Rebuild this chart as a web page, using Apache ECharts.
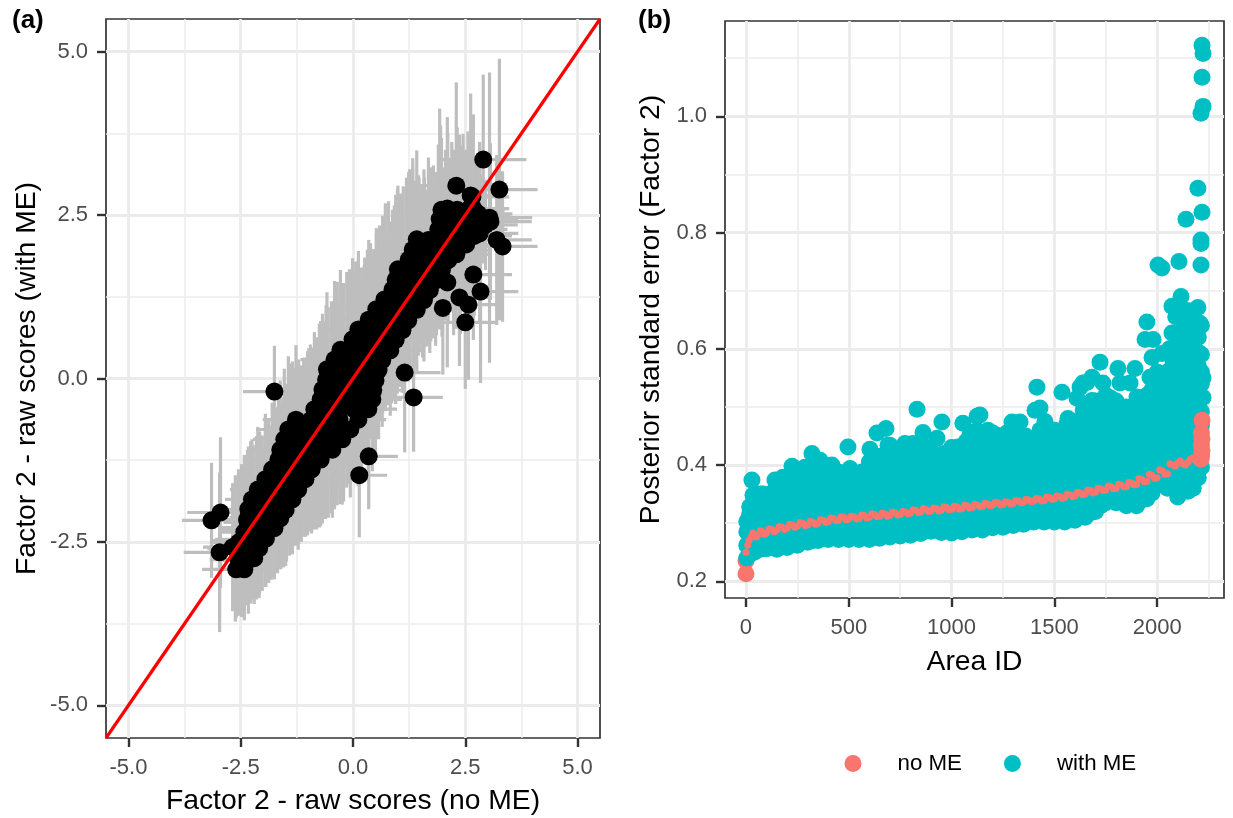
<!DOCTYPE html>
<html><head><meta charset="utf-8">
<style>html,body{margin:0;padding:0;background:#fff}#c{width:1233px;height:818px}</style>
<script src="https://cdn.jsdelivr.net/npm/echarts@6/dist/echarts.min.js"></script>
</head><body><div id="c"></div>
<script>
// Panel (a): [score no ME, score with ME, half-length of horizontal bar, half-length of vertical bar]
const bandLow = [
[-2.60,-2.92,.76,.74],[-2.42,-2.92,.62,.78],
[-2.55,-2.77,.64,.80],[-2.33,-2.78,.58,.82],[-2.20,-2.75,.52,.70],
[-2.50,-2.61,.70,.86],[-2.28,-2.62,.58,.82],[-2.09,-2.60,.50,.76],
[-2.41,-2.46,.66,.90],[-2.17,-2.47,.56,.78],[-1.94,-2.45,.52,.74],
[-2.35,-2.31,.60,.94],[-2.11,-2.33,.55,.84],[-1.88,-2.30,.50,.80],[-1.75,-2.29,.48,.72],
[-2.36,-2.16,.58,.98],[-2.05,-2.17,.54,.86],[-1.82,-2.15,.50,.88],[-1.62,-2.14,.52,.76],
[-2.33,-2.00,.62,.96],[-2.02,-2.02,.54,.92],[-1.75,-1.99,.50,.84],[-1.50,-2.01,.52,.86],
[-2.25,-1.85,.60,.92],[-1.95,-1.86,.56,.88],[-1.68,-1.84,.50,.94],[-1.35,-1.85,.54,.84],
[-2.12,-1.70,.62,.96],[-1.85,-1.71,.55,.92],[-1.58,-1.69,.52,.90],[-1.22,-1.70,.56,.92],
[-1.95,-1.54,.64,1.00],[-1.70,-1.55,.58,.94],[-1.42,-1.53,.52,.96],[-1.06,-1.54,.58,.88],
[-1.80,-1.39,.62,1.02],[-1.55,-1.40,.58,.96],[-1.30,-1.38,.54,.92],[-0.92,-1.39,.60,.98],
[-1.66,-1.24,.66,1.04],[-1.38,-1.25,.60,1.00],[-1.10,-1.23,.56,.98],[-0.72,-1.24,.62,1.02],
[-1.62,-1.09,.70,1.06],[-1.30,-1.10,.62,1.00],[-1.00,-1.08,.56,1.02],[-0.68,-1.09,.60,.96],[-0.46,-1.09,.58,1.04]
];
const bandMid = [
[-1.53,-0.93,.70,1.08],[-1.22,-0.94,.62,1.04],[-0.90,-0.92,.58,1.00],[-0.58,-0.93,.56,1.06],[-0.24,-0.93,.60,1.00],
[-1.44,-0.78,.72,1.12],[-1.10,-0.79,.64,1.06],[-0.78,-0.77,.58,1.02],[-0.42,-0.78,.58,1.08],[-0.06,-0.78,.62,1.04],
[-1.27,-0.63,.74,1.14],[-0.95,-0.64,.66,1.10],[-0.62,-0.62,.60,1.04],[-0.30,-0.63,.58,1.06],[0.12,-0.63,.62,1.02],
[-0.86,-0.47,.78,1.18],[-0.58,-0.48,.66,1.12],[-0.28,-0.46,.60,1.04],[0.02,-0.47,.58,1.08],[0.34,-0.47,.64,1.06],
[-0.72,-0.32,.76,1.20],[-0.45,-0.33,.68,1.10],[-0.15,-0.31,.60,1.08],[0.15,-0.32,.60,1.02],[0.43,-0.32,.66,1.10],
[-0.68,-0.17,.74,1.16],[-0.38,-0.18,.66,1.12],[-0.08,-0.16,.62,1.06],[0.22,-0.17,.60,1.04],[0.45,-0.18,.68,1.06],
[-0.60,-0.02,.72,1.14],[-0.30,-0.03,.66,1.16],[0.00,-0.01,.62,1.08],[0.28,-0.02,.62,1.06],[0.50,-0.03,.70,1.12],
[-0.58,0.14,.74,1.18],[-0.28,0.13,.68,1.12],[0.03,0.15,.62,1.10],[0.32,0.14,.60,1.04],[0.57,0.13,.72,1.06],
[-0.41,0.29,.76,1.20],[-0.12,0.28,.68,1.14],[0.18,0.30,.64,1.08],[0.42,0.29,.62,1.10],[0.65,0.28,.70,1.02],
[-0.28,0.44,.74,1.22],[0.02,0.43,.68,1.16],[0.30,0.45,.64,1.08],[0.58,0.44,.62,1.06],[0.83,0.43,.72,1.00],
[-0.01,0.60,.76,1.24],[0.25,0.59,.70,1.14],[0.50,0.61,.64,1.10],[0.72,0.60,.62,1.04],[0.95,0.59,.72,.98],
[0.12,0.75,.74,1.20],[0.40,0.74,.70,1.16],[0.65,0.76,.64,1.06],[0.90,0.75,.64,1.04],[1.10,0.74,.74,.96],
[0.35,0.90,.76,1.22],[0.60,0.89,.70,1.12],[0.85,0.91,.66,1.08],[1.08,0.90,.66,1.02],[1.23,0.89,.76,.94]
];
const bandHigh = [
[0.52,1.06,.76,1.24],[0.78,1.05,.72,1.14],[1.02,1.07,.66,1.08],[1.25,1.06,.66,1.00],[1.42,1.05,.78,.96],
[0.70,1.21,.78,1.26],[0.95,1.20,.72,1.18],[1.20,1.22,.68,1.10],[1.40,1.21,.66,1.02],[1.58,1.20,.76,.94],
[0.88,1.36,.76,1.22],[1.10,1.35,.72,1.16],[1.35,1.37,.68,1.08],[1.55,1.36,.68,1.04],[1.71,1.35,.80,.96],
[0.95,1.51,.78,1.30],[1.20,1.50,.74,1.22],[1.45,1.52,.70,1.10],[1.65,1.51,.70,1.02],[1.84,1.50,.82,1.00],
[1.00,1.67,.78,1.28],[1.25,1.66,.74,1.24],[1.50,1.68,.70,1.14],[1.75,1.67,.72,1.06],[1.98,1.66,.84,1.02],
[1.24,1.82,.78,1.34],[1.47,1.81,.74,1.26],[1.70,1.83,.72,1.12],[1.90,1.82,.72,1.04],[2.12,1.81,.86,.98],[2.30,1.90,.78,1.14],
[1.33,1.97,.80,1.40],[1.58,1.96,.76,1.24],[1.82,1.98,.74,1.18],[2.05,1.97,.74,1.08],[2.24,1.96,.84,1.30],[2.52,2.05,.80,1.16],
[1.42,2.13,.76,1.36],[1.68,2.12,.76,1.26],[1.95,2.14,.74,1.16],[2.20,2.13,.78,1.10],[2.39,2.12,.82,1.44],[2.70,2.18,.84,1.22],
[1.90,2.28,.78,1.30],[2.10,2.27,.76,1.22],[2.32,2.29,.80,1.18],[2.62,2.28,.82,1.34],[2.82,2.22,.86,1.36],
[1.95,2.43,.80,1.44],[2.20,2.42,.78,1.20],[2.45,2.44,.80,1.30],[2.82,2.42,.86,1.20],
[1.97,2.58,.80,1.10],[2.10,2.60,.76,1.40],[2.32,2.58,.82,1.26],[2.56,2.58,.82,1.20],[2.68,2.60,.80,1.44]
];
const bandCore = [
[-2.68,-2.58,.66,.98],[-2.62,-2.60,.62,1.12],[-2.55,-2.51,.60,1.12],[-2.48,-2.48,.64,1.17],[-2.42,-2.35,.58,1.18],[-2.35,-2.28,.62,1.19],
[-2.28,-2.20,.60,1.24],[-2.22,-2.20,.66,1.18],[-2.15,-2.13,.60,1.25],[-2.08,-2.05,.62,1.24],[-2.02,-2.06,.58,1.19],[-1.95,-1.94,.64,1.25],
[-1.88,-1.88,.62,1.25],[-1.82,-1.90,.60,1.18],[-1.75,-1.79,.66,1.28],[-1.68,-1.71,.62,1.27],[-1.61,-1.65,.64,1.27],[-1.55,-1.59,.60,1.30],
[-1.48,-1.44,.68,1.36],[-1.41,-1.24,.70,1.47],[-1.35,-1.19,.66,1.45],[-1.28,-1.21,.62,1.35],[-1.21,-1.12,.64,1.41],[-1.15,-1.15,.60,1.35],
[-1.08,-1.05,.66,1.37],[-1.01,-0.99,.68,1.41],[-0.95,-0.91,.64,1.43],[-0.88,-0.92,.62,1.39],[-0.81,-0.84,.66,1.47],[-0.75,-0.72,.70,1.56],
[-0.68,-0.72,.66,1.50],[-0.61,-0.64,.64,1.51],[-0.55,-0.52,.68,1.61],[-0.48,-0.44,.70,1.62],[-0.41,-0.37,.66,1.63],[-0.35,-0.23,.72,1.71],
[-0.28,-0.28,.68,1.64],[-0.21,-0.21,.66,1.67],[-0.14,-0.02,.70,1.65],[-0.08,0.03,.72,1.64],[-0.01,0.02,.66,1.56],[0.06,0.15,.70,1.64],
[0.12,0.20,.68,1.62],[0.19,0.17,.66,1.53],[0.26,0.28,.70,1.57],[0.32,0.44,.72,1.53],[0.39,0.57,.70,1.50],[0.46,0.60,.66,1.38],
[0.52,0.75,.72,1.47],[0.59,0.86,.74,1.48],[0.66,0.98,.70,1.51],[0.72,1.09,.72,1.59],[0.79,1.15,.74,1.56],[0.86,1.01,.68,1.39],
[0.92,1.18,.70,1.47],[0.99,1.33,.76,1.56],[1.06,1.35,.72,1.48],[1.12,1.43,.74,1.51],[1.19,1.53,.76,1.54],[1.26,1.64,.78,1.56],
[1.33,1.70,.76,1.53],[1.39,1.64,.72,1.38],[1.46,1.73,.74,1.38],[1.53,1.70,.70,1.26],[1.59,1.77,.74,1.30],[1.66,1.70,.70,1.19],
[1.73,1.90,.76,1.33],[1.79,1.94,.78,1.32],[1.86,1.91,.74,1.25],[1.93,2.44,.80,1.69],[1.99,2.02,.74,1.21],[2.06,2.20,.78,1.30],
[2.11,2.36,.80,1.40],[2.17,2.19,.76,1.16],[2.24,2.32,.78,1.18],[2.37,2.50,.82,1.23],[2.44,2.46,.80,1.10],[2.51,2.48,.78,1.02],
[2.57,2.45,.76,.96],[2.66,2.78,.82,1.21],[2.73,2.49,.78,.86],[2.79,2.52,.76,.82],[2.88,2.44,.74,.68],[2.95,2.35,.72,.69]
];
const outliers = [
[-3.15,-2.17,.66,.88],[-2.95,-2.05,.74,1.15],[-2.97,-2.66,.80,1.22],
[-1.75,-0.20,.70,.70],[0.14,-1.48,.62,.95],[0.35,-1.19,.65,.81],
[1.15,0.09,.80,1.22],[1.35,-0.29,.65,.83],[2.00,1.08,.76,1.02],
[2.50,0.86,.70,1.02],[2.57,1.13,.62,1.15],[2.84,1.33,.84,1.40],[2.68,1.59,.86,1.00],
[2.37,1.24,.70,1.05],[2.10,1.47,.72,1.30],[3.06,2.40,.92,1.20],
[2.90,3.35,.96,1.30],[3.26,2.89,.85,2.00],[3.20,2.12,.78,1.30],[3.33,2.02,.78,1.15],
[3.04,2.46,.95,2.22],[2.30,2.95,.85,1.58],[2.62,2.80,.80,1.56]
];
const identityLine = [[-5.5,-5.5],[5.5,5.5]];
const ticksA = [-5,-2.5,0,2.5,5];
const minorA = [-3.75,-1.25,1.25,3.75];
const labelsA = {'-5':'-5.0','-2.5':'-2.5','0':'0.0','2.5':'2.5','5':'5.0'};

// Panel (b): with-ME standard errors as [area id, [values at this id]]
const withMEColumns = [
[4,[.240,.262,.285,.303]],[18,[.246,.270,.292,.316,.328]],[40,[.250,.281,.303,.327,.345]],
[70,[.255,.276,.298,.320,.343,.350]],[100,[.256,.279,.302,.325,.347]],[125,[.262,.291,.314,.337,.352]],
[150,[.255,.278,.302,.325,.348,.358]],[175,[.262,.287,.310,.333,.356,.368]],[200,[.258,.281,.304,.329,.352,.376]],
[225,[.265,.288,.312,.335,.358,.382]],[250,[.262,.285,.310,.333,.356,.380,.386]],[275,[.268,.292,.316,.339,.362,.388]],
[300,[.267,.290,.313,.337,.360,.384,.393]],[325,[.270,.294,.318,.341,.365,.389]],[350,[.270,.293,.316,.340,.364,.394]],
[375,[.274,.298,.322,.345,.369,.390]],[400,[.272,.295,.318,.343,.366,.392]],[425,[.276,.300,.323,.347,.371,.388]],
[450,[.272,.296,.320,.344,.367,.388]],[475,[.278,.302,.326,.350,.374,.382]],[500,[.272,.296,.319,.343,.366,.385]],
[525,[.277,.301,.325,.349,.372]],[550,[.272,.296,.320,.344,.368,.382]],[575,[.279,.303,.327,.351,.375]],
[600,[.272,.296,.319,.344,.367,.385]],[625,[.279,.303,.328,.352,.376,.392]],[650,[.274,.298,.321,.345,.369,.391]],
[675,[.281,.305,.329,.353,.377,.400]],[700,[.276,.299,.323,.347,.371,.396]],[725,[.283,.307,.331,.355,.379,.402]],
[750,[.278,.301,.326,.350,.373,.400]],[775,[.284,.308,.332,.356,.380,.405]],[800,[.279,.303,.327,.351,.375,.399,.408]],
[825,[.285,.309,.333,.358,.382,.406]],[850,[.282,.306,.330,.354,.378,.402,.410]],[875,[.289,.313,.337,.361,.385,.408]],
[900,[.286,.310,.334,.358,.382,.406]],[925,[.291,.315,.339,.363,.387,.405]],[950,[.284,.308,.332,.356,.380,.402]],
[975,[.290,.314,.338,.362,.386,.406]],[1000,[.283,.307,.332,.356,.380,.405]],[1025,[.292,.316,.340,.364,.388,.412]],
[1050,[.285,.309,.333,.357,.381,.405,.421]],[1075,[.294,.318,.342,.366,.390,.414]],[1100,[.288,.312,.336,.360,.384,.408,.431]],
[1125,[.295,.319,.343,.367,.391,.415,.437]],[1150,[.288,.313,.337,.361,.385,.409,.433,.442]],[1175,[.297,.321,.345,.369,.393,.417]],
[1200,[.292,.316,.340,.364,.388,.412,.438]],[1225,[.299,.323,.347,.371,.395,.419]],[1250,[.293,.317,.341,.365,.389,.413,.431]],
[1275,[.301,.325,.349,.373,.397,.421]],[1300,[.296,.320,.344,.368,.392,.416,.430]],[1325,[.303,.327,.351,.375,.399,.423]],
[1350,[.298,.322,.346,.370,.394,.418,.437]],[1375,[.306,.330,.354,.378,.402,.426]],[1400,[.302,.326,.350,.374,.398,.422,.441]],
[1425,[.308,.332,.356,.380,.404,.428]],[1450,[.302,.326,.350,.374,.398,.422,.441]],[1475,[.309,.333,.357,.381,.405,.429]],
[1500,[.302,.326,.350,.374,.398,.422,.446]],[1525,[.310,.334,.358,.382,.406,.430]],[1550,[.302,.326,.350,.374,.398,.422,.450]],
[1575,[.311,.335,.359,.383,.407,.431]],[1600,[.305,.329,.353,.377,.401,.425,.450]],[1625,[.314,.338,.362,.386,.410,.434,.458]],
[1650,[.310,.334,.358,.382,.406,.430,.454,.470]],[1675,[.318,.342,.366,.390,.414,.438,.462,.482]],[1700,[.320,.344,.368,.392,.416,.440,.464,.490]],
[1725,[.330,.354,.378,.402,.426,.450,.474]],[1750,[.335,.359,.383,.407,.431,.455,.479,.490]],[1775,[.340,.364,.388,.412,.436,.460,.484]],
[1800,[.335,.359,.383,.407,.431,.455,.485]],[1825,[.340,.364,.388,.412,.436,.460,.478]],[1850,[.330,.354,.378,.402,.426,.450,.475]],
[1875,[.338,.362,.386,.410,.434,.458]],[1900,[.330,.354,.378,.402,.426,.450,.470]],[1925,[.340,.364,.388,.412,.436,.460,.490]],
[1950,[.342,.366,.390,.414,.438,.462,.486,.520]],[1975,[.352,.376,.400,.424,.448,.472,.496,.530]],[2000,[.365,.389,.413,.437,.461,.485,.509,.535]],
[2025,[.372,.396,.420,.444,.468,.492,.516,.548]],[2050,[.360,.384,.408,.432,.456,.480,.504,.530,.560]],[2075,[.372,.396,.420,.444,.468,.492,.516,.540,.570]],
[2100,[.345,.375,.399,.423,.447,.471,.495,.519,.543,.572,.600]],[2125,[.365,.389,.413,.437,.461,.485,.509,.533,.557,.585,.620]],
[2150,[.355,.380,.404,.428,.452,.476,.500,.524,.548,.572,.600,.640]],[2175,[.360,.385,.410,.434,.458,.482,.506,.530,.554,.578,.610,.650]],
[2200,[.378,.402,.426,.450,.474,.498,.522,.546,.570,.594,.620,.642]],[2215,[.396,.420,.444,.468,.492,.516,.540,.560,.590,.640]]
];
const withMEStragglers = [
[29,.374],[141,.374],[224,.398],[321,.42],[496,.431],[603,.427],[637,.455],[681,.463],[700,.434],[832,.496],
[861,.456],[929,.446],[953,.474],[1031,.431],[1055,.472],[1124,.484],[1138,.486],[1177,.46],[1221,.451],[1294,.474],
[1333,.474],[1406,.494],[1415,.534],[1430,.498],[1454,.475],[1537,.525],[1566,.48],[1610,.515],[1639,.541],[1683,.551],
[1683,.511],[1722,.577],[1780,.498],[1809,.566],[1892,.566],[1941,.616],[1980,.616],[1950,.646],[1975,.585],[2023,.592],
[2072,.627],[2004,.744],[2023,.739],[2106,.750],[2140,.823],[2198,.876],[2218,.835],[2213,.787],[2213,.781],[2213,.744],
[2218,1.122],[2223,1.108],[2218,1.067],[2223,1.017],[2213,1.005],[2116,.69],[2072,.673],[2198,.671],[2111,.666],[2145,.666],
[2090,.655],[2170,.665],[2060,.60],[2130,.645]
];
const withMEUpperCloud = [
[34,.348],[83,.350],[180,.379],[287,.396],[360,.408],[418,.40],[506,.394],[564,.388],[600,.405],[637,.403],[650,.415],
[691,.434],[720,.42],[773,.437],[780,.42],[812,.437],[840,.42],[871,.431],[900,.425],[960,.42],[992,.413],[1000,.43],
[1070,.44],[1089,.451],[1100,.445],[1124,.46],[1160,.45],[1200,.455],[1250,.447],[1269,.455],[1320,.45],[1360,.45],
[1381,.431],[1430,.46],[1479,.455],[1500,.46],[1542,.443],[1560,.47],[1600,.475],[1625,.534],[1640,.495],[1658,.542],
[1673,.472],[1680,.50],[1700,.51],[1725,.50],[1736,.541],[1750,.52],[1775,.515],[1800,.51],[1819,.541],[1825,.50],
[1850,.50],[1868,.541],[1875,.495],[1900,.495],[1902,.517],[1925,.505],[1965,.551],[2000,.56],[2077,.58],[2111,.609],
[2150,.627],[2193,.58],[2208,.644],[2223,.55],[2223,.516]
];
const noMEStart = [[0,.213],[0,.235]];
const noMEBand = [
[0,.25],[8,.262],[15,.27],[25,.276],[40,.279],[60,.281],[80,.285],[100,.283],[125,.289],[150,.288],[175,.293],[200,.291],
[225,.297],[250,.295],[275,.30],[300,.297],[325,.302],[350,.30],[375,.305],[400,.303],[425,.308],[450,.305],[475,.310],[500,.307],
[525,.311],[550,.308],[575,.313],[600,.310],[625,.315],[650,.312],[675,.316],[700,.313],[725,.318],[750,.315],[775,.319],[800,.317],
[825,.322],[850,.319],[875,.324],[900,.321],[925,.325],[950,.322],[975,.327],[1000,.324],[1025,.328],[1050,.325],[1075,.330],[1100,.327],
[1125,.331],[1150,.329],[1175,.333],[1200,.331],[1225,.335],[1250,.332],[1275,.336],[1300,.334],[1325,.338],[1350,.336],[1375,.340],[1400,.338],
[1425,.342],[1450,.339],[1475,.344],[1500,.342],[1525,.346],[1550,.344],[1575,.349],[1600,.347],[1625,.352],[1650,.350],[1675,.356],[1700,.353],
[1725,.359],[1750,.357],[1775,.363],[1800,.360],[1825,.366],[1850,.363],[1875,.369],[1900,.367],[1925,.375],[1950,.372],[1975,.382],[2000,.378],
[2025,.39],[2050,.385],[2075,.400],[2100,.403],[2125,.402],[2150,.405],[2175,.412]
];
const noMEBandFill = [
[33,.283],[50,.276],[70,.287],[90,.281],[112,.290],[138,.285],[162,.294],[188,.289],[212,.298],[238,.293],[262,.301],[288,.296],
[312,.303],[338,.298],[362,.306],[388,.301],[412,.309],[438,.304],[462,.311],[488,.306],[512,.312],[538,.307],[562,.314],[588,.309],
[612,.316],[638,.311],[662,.317],[688,.312],[712,.319],[738,.314],[762,.320],[788,.316],[812,.323],[838,.318],[862,.325],[888,.320],
[912,.326],[938,.321],[962,.328],[988,.323],[1012,.329],[1038,.324],[1062,.331],[1088,.326],[1112,.332],[1138,.328],[1162,.334],[1188,.330],
[1212,.336],[1238,.331],[1262,.337],[1288,.333],[1312,.339],[1338,.335],[1362,.341],[1388,.337],[1412,.343],[1438,.338],[1462,.345],[1488,.341],
[1512,.347],[1538,.343],[1562,.350],[1588,.346],[1612,.353],[1638,.349],[1662,.357],[1688,.352],[1712,.360],[1738,.356],[1762,.364],[1788,.359],
[1812,.367],[1838,.362],[1862,.370],[1888,.366],[1912,.377],[1938,.371],[1962,.384],[1988,.377],[2012,.392],[2038,.384],[2062,.402],[2088,.398],
[2112,.407],[2138,.400],[2162,.410],[2188,.408]
];
const noMEEnd = [[2213,.41],[2216,.416],[2218,.425],[2215,.435],[2218,.445],[2215,.455],[2218,.477]];
const ticksBX = [0,500,1000,1500,2000];
const minorBX = [250,750,1250,1750,2250];
const ticksBY = [0.2,0.4,0.6,0.8,1.0];
const minorBY = [0.3,0.5,0.7,0.9,1.1];

const FONT = '"Liberation Sans", Arial, sans-serif';
const scoreRows = [...bandCore, ...bandLow, ...bandMid, ...bandHigh, ...outliers];
const withME = [];
withMEColumns.forEach(([id, vals]) => vals.forEach(v => withME.push([id, v])));
withME.push(...withMEUpperCloud, ...withMEStragglers);

function axis(extra, ticks, gap, name, fmt, rot, margin) {
  return Object.assign({
    type: 'value', name, nameLocation: 'middle', nameGap: gap, nameRotate: rot,
    nameTextStyle: {fontFamily: FONT, fontSize: 28.3, color: '#000'},
    axisLine: {show: false, onZero: false},
    axisTick: {show: true, length: 9, lineStyle: {color: '#333', width: 2.4}, customValues: ticks},
    axisLabel: {show: true, margin, fontFamily: FONT, fontSize: 22, color: '#4D4D4D', customValues: ticks, formatter: fmt},
    splitLine: {show: true, lineStyle: {color: '#EBEBEB', width: 2.8}},
    minorSplitLine: {show: false}
  }, extra);
}
function minorGrid(xIdx, xs, ys) {
  return {
    type: 'line', xAxisIndex: xIdx, yAxisIndex: xIdx, data: [], z: 1, silent: true,
    markLine: {
      z: 1, silent: true, symbol: 'none', animation: false, label: {show: false},
      lineStyle: {type: 'solid', color: '#EDEDED', width: 1.5},
      data: [...xs.map(v => ({xAxis: v})), ...ys.map(v => ({yAxis: v}))]
    }
  };
}
const chart = echarts.init(document.getElementById('c'), null, {renderer: 'canvas'});
chart.setOption({
  animation: false, backgroundColor: '#fff',
  title: [
    {text: '(a)', left: 7, top: 3, textStyle: {fontFamily: FONT, fontSize: 26, fontWeight: 'bold', color: '#000'}},
    {text: '(b)', left: 633, top: 3, textStyle: {fontFamily: FONT, fontSize: 26, fontWeight: 'bold', color: '#000'}}
  ],
  grid: [
    {left: 106, top: 19, width: 494, height: 719, outerBoundsMode: 'none', show: true, borderColor: '#333', borderWidth: 1.7, backgroundColor: '#fff'},
    {left: 725, top: 21, width: 499, height: 577, outerBoundsMode: 'none', show: true, borderColor: '#333', borderWidth: 1.7, backgroundColor: '#fff'}
  ],
  legend: {
    left: 844.5, top: 752.5, padding: 0, itemWidth: 17, itemHeight: 17, itemGap: 42, icon: 'circle',
    data: ['no ME', 'with ME'], selectedMode: false,
    textStyle: {fontFamily: FONT, fontSize: 22.3, color: '#000', padding: [0, 0, 0, 31]}
  },
  xAxis: [
    axis({gridIndex: 0, min: -5.5, max: 5.5, position: 'bottom'}, ticksA, 49, 'Factor 2 - raw scores (no ME)', v => labelsA[String(v)], 0, 19),
    axis({gridIndex: 1, min: -102, max: 2325, position: 'bottom'}, ticksBX, 50, 'Area ID', v => String(v), 0, 19)
  ],
  yAxis: [
    axis({gridIndex: 0, min: -5.5, max: 5.5, position: 'left'}, ticksA, 65, 'Factor 2 - raw scores (with ME)', v => labelsA[String(v)], 90, 18),
    axis({gridIndex: 1, min: 0.1712, max: 1.1639, position: 'left'}, ticksBY, 60, 'Posterior standard error (Factor 2)', v => v.toFixed(1), 90, 18)
  ],
  series: [
    minorGrid(0, minorA, minorA),
    minorGrid(1, minorBX, minorBY),
    {
      type: 'custom', xAxisIndex: 0, yAxisIndex: 0, z: 2, silent: true, clip: true,
      data: scoreRows, encode: {x: 0, y: 1},
      renderItem(params, api) {
        const x = api.value(0), y = api.value(1), xe = api.value(2), ye = api.value(3);
        const a = api.coord([x, y - ye]), b = api.coord([x, y + ye]);
        const c = api.coord([x - xe, y]), d = api.coord([x + xe, y]);
        const style = {stroke: '#BEBEBE', lineWidth: 3.2, fill: null};
        return {type: 'group', children: [
          {type: 'line', shape: {x1: a[0], y1: a[1], x2: b[0], y2: b[1]}, style},
          {type: 'line', shape: {x1: c[0], y1: c[1], x2: d[0], y2: d[1]}, style}
        ]};
      }
    },
    {type: 'scatter', xAxisIndex: 0, yAxisIndex: 0, z: 3, silent: true, symbolSize: 18,
      itemStyle: {color: '#000', opacity: 1}, data: scoreRows.map(r => [r[0], r[1]])},
    {type: 'line', xAxisIndex: 0, yAxisIndex: 0, z: 4, silent: true, showSymbol: false,
      lineStyle: {color: '#FF0000', width: 3.2}, data: identityLine},
    {name: 'no ME', type: 'scatter', xAxisIndex: 1, yAxisIndex: 1, z: 2, silent: true, symbolSize: 17,
      itemStyle: {color: '#F8766D', opacity: 1}, data: noMEStart},
    {name: 'with ME', type: 'scatter', xAxisIndex: 1, yAxisIndex: 1, z: 3, silent: true, symbolSize: 17,
      itemStyle: {color: '#00BFC4', opacity: 1}, data: withME},
    {name: 'no ME', type: 'scatter', xAxisIndex: 1, yAxisIndex: 1, z: 4, silent: true, symbolSize: 7,
      itemStyle: {color: '#F8766D', opacity: 1}, data: [...noMEBand, ...noMEBandFill]},
    {name: 'no ME', type: 'scatter', xAxisIndex: 1, yAxisIndex: 1, z: 5, silent: true, symbolSize: 17,
      itemStyle: {color: '#F8766D', opacity: 1}, data: noMEEnd}
  ]
});
</script></body></html>
